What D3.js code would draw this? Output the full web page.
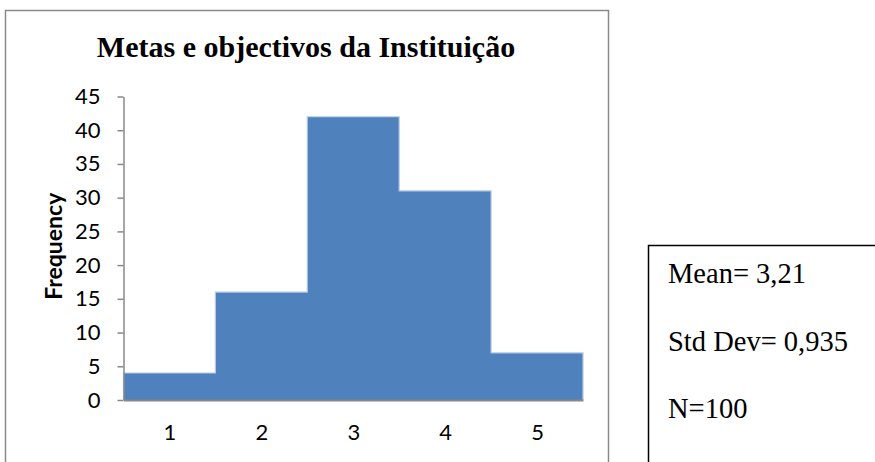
<!DOCTYPE html>
<html>
<head>
<meta charset="utf-8">
<script src="https://cdn.jsdelivr.net/npm/d3@7/dist/d3.min.js"></script>
<style>
  html, body { margin: 0; padding: 0; background: #fff; }
  svg { display: block; }
</style>
</head>
<body>
<svg id="chart" width="875" height="462"></svg>
<script>
// Histogram data: response categories and their frequencies
const categories = [1, 2, 3, 4, 5];
const frequencies = [4, 16, 42, 31, 7];
const yTicks = [0, 5, 10, 15, 20, 25, 30, 35, 40, 45];
const titleText = "Metas e objectivos da Instituição";
const yAxisTitle = "Frequency";
const statLines = ["Mean= 3,21", "Std Dev= 0,935", "N=100"];

const svg = d3.select("#chart");

// Chart frame
svg.append("rect")
  .attr("x", 5.5).attr("y", 10.5)
  .attr("width", 603).attr("height", 470)
  .attr("fill", "#fff")
  .attr("stroke", "#8a8a8a")
  .attr("stroke-width", 1.5);

const plot = { left: 123.5, right: 583, top: 96.5, bottom: 400 };

const x = d3.scaleLinear()
  .domain([d3.min(categories) - 0.5, d3.max(categories) + 0.5])
  .range([plot.left, plot.right]);

const y = d3.scaleLinear()
  .domain([0, 45])
  .range([plot.bottom, plot.top]);

// Title
svg.append("text")
  .attr("x", 306).attr("y", 57)
  .attr("text-anchor", "middle")
  .attr("font-family", "'Liberation Serif', 'Times New Roman', serif")
  .attr("font-weight", "bold")
  .attr("font-size", 30)
  .attr("fill", "#000")
  .text(titleText);

const bins = categories.map((c, i) => ({ c, v: frequencies[i] }));

// Bars (adjacent bins, fill only, snapped to pixels so no seams show)
svg.append("g")
  .attr("shape-rendering", "crispEdges")
  .selectAll("rect")
  .data(bins)
  .join("rect")
  .attr("x", d => Math.round(x(d.c - 0.5)))
  .attr("width", d => Math.round(x(d.c + 0.5)) - Math.round(x(d.c - 0.5)))
  .attr("y", d => y(d.v))
  .attr("height", d => y(0) - y(d.v))
  .attr("fill", "#4f81bd");

// Light outline along the histogram's stepped top edge
const outline = [[bins[0].c - 0.5, 0]];
bins.forEach(d => {
  outline.push([d.c - 0.5, d.v]);
  outline.push([d.c + 0.5, d.v]);
});
outline.push([bins[bins.length - 1].c + 0.5, 0]);
svg.append("path")
  .attr("d", d3.line().x(p => x(p[0])).y(p => y(p[1]))(outline))
  .attr("fill", "none")
  .attr("stroke", "#b4c9e4")
  .attr("stroke-width", 1.2);

// Y axis
const yAxis = svg.append("g")
  .attr("transform", `translate(${plot.left},0)`)
  .call(d3.axisLeft(y).tickValues(yTicks).tickSize(6).tickPadding(17).tickSizeOuter(0));
yAxis.select(".domain").attr("stroke", "#888").attr("stroke-width", 1.5);
yAxis.selectAll(".tick line").attr("stroke", "#888").attr("stroke-width", 1.5);
yAxis.selectAll(".tick text")
  .attr("font-family", "Lato, 'Open Sans', sans-serif")
  .attr("font-size", 22)
  .attr("fill", "#000");

// X axis: baseline with category labels at bin centres
const xAxis = svg.append("g")
  .attr("transform", `translate(0,${plot.bottom})`)
  .call(d3.axisBottom(x).tickValues(categories).tickFormat(d3.format("d"))
    .tickSize(0).tickPadding(24).tickSizeOuter(0));
xAxis.select(".domain").attr("stroke", "#888").attr("stroke-width", 2);
xAxis.selectAll(".tick text")
  .attr("font-family", "Lato, 'Open Sans', sans-serif")
  .attr("font-size", 22)
  .attr("fill", "#000");

// Y axis title
svg.append("text")
  .attr("transform", `translate(62,${(plot.top + plot.bottom) / 2 - 2}) rotate(-90)`)
  .attr("text-anchor", "middle")
  .attr("font-family", "Lato, 'Open Sans', sans-serif")
  .attr("font-weight", "bold")
  .attr("font-size", 23)
  .attr("fill", "#000")
  .text(yAxisTitle);

// Summary statistics box
svg.append("rect")
  .attr("x", 648.5).attr("y", 245.5)
  .attr("width", 240).attr("height", 240)
  .attr("fill", "#fff")
  .attr("stroke", "#000")
  .attr("stroke-width", 1.5);

svg.append("g")
  .selectAll("text")
  .data(statLines)
  .join("text")
  .attr("x", 668)
  .attr("y", (d, i) => 283 + i * 67.5)
  .attr("font-family", "'Liberation Serif', 'Times New Roman', serif")
  .attr("font-size", 28.5)
  .attr("fill", "#000")
  .text(d => d);
</script>
</body>
</html>
